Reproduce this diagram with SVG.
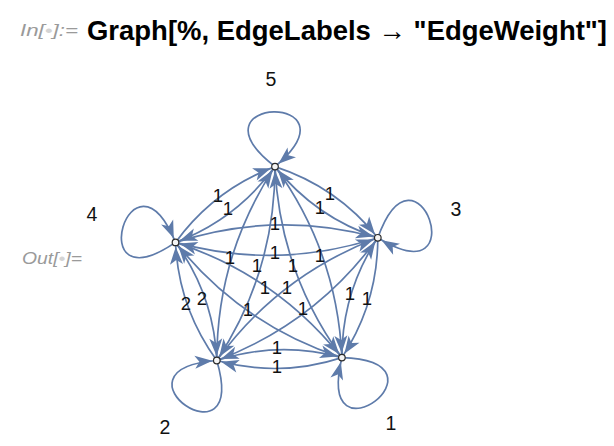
<svg xmlns="http://www.w3.org/2000/svg" width="614" height="446" viewBox="0 0 614 446">
<style>
.e{fill:none;stroke:#5E7BAA;stroke-width:1.7;marker-end:url(#ah)}
.lb{font-family:"Liberation Sans",Arial,sans-serif;font-size:18.5px;fill:#111;text-anchor:middle}
.nl{font-family:"Liberation Sans",Arial,sans-serif;font-size:19.5px;fill:#111;text-anchor:middle}
.pr{font-family:"Liberation Sans",Arial,sans-serif;font-style:italic;font-size:17px;fill:#9a9a9a}
.nd{fill:#f4f4f4;stroke:#2b2b2b;stroke-width:1.2}
</style>
<defs>
<marker id="ah" markerUnits="userSpaceOnUse" markerWidth="26" markerHeight="14" refX="25" refY="7" orient="auto">
<path d="M20.5,7 L3,0.5 L7.5,7 L3,13.5 Z" fill="#5E7BAA"/>
</marker>
</defs>
<rect width="614" height="446" fill="#ffffff"/>
<text class="pr" x="20" y="36" textLength="58" lengthAdjust="spacingAndGlyphs">In[<tspan fill="#d4d4d4">•</tspan>]:=</text>
<text x="87" y="40" font-family="Liberation Sans,Arial,sans-serif" font-weight="bold" font-size="27.5" fill="#000" textLength="520" lengthAdjust="spacingAndGlyphs">Graph[%, EdgeLabels → "EdgeWeight"]</text>
<text class="pr" x="22" y="264" textLength="60" lengthAdjust="spacingAndGlyphs">Out[<tspan fill="#d4d4d4">•</tspan>]=</text>
<g id="connectors">
<path class="e" d="M275,166.6 C183.3,95.7 363.3,91.5 275,166.6"/>
<path class="e" d="M377.8,237.8 C416.9,128.7 476.5,298.6 377.8,237.8"/>
<path class="e" d="M341.9,357.6 C457.7,361.1 314.6,470.2 341.9,357.6"/>
<path class="e" d="M216.8,360.5 C249.3,471.7 101.3,369.4 216.8,360.5"/>
<path class="e" d="M175.5,242.4 C79.7,307.6 131.5,135.2 175.5,242.4"/>
<path class="e" d="M275,166.6 Q337.1,186.8 377.8,237.8"/>
<path class="e" d="M377.8,237.8 Q315.7,217.6 275,166.6"/>
<path class="e" d="M275,166.6 Q236.6,219.4 175.5,242.4"/>
<path class="e" d="M175.5,242.4 Q213.9,189.6 275,166.6"/>
<path class="e" d="M377.8,237.8 Q377.8,303.1 341.9,357.6"/>
<path class="e" d="M341.9,357.6 Q341.9,292.3 377.8,237.8"/>
<path class="e" d="M216.8,360.5 Q278.9,340.3 341.9,357.6"/>
<path class="e" d="M341.9,357.6 Q279.8,377.8 216.8,360.5"/>
<path class="e" d="M175.5,242.4 Q213.9,295.3 216.8,360.5"/>
<path class="e" d="M216.8,360.5 Q178.4,307.6 175.5,242.4"/>
<path class="e" d="M175.5,242.4 Q276.0,209.8 377.8,237.8"/>
<path class="e" d="M377.8,237.8 Q277.3,270.4 175.5,242.4"/>
<path class="e" d="M275,166.6 Q275.0,272.3 216.8,360.5"/>
<path class="e" d="M216.8,360.5 Q216.8,254.8 275,166.6"/>
<path class="e" d="M275,166.6 Q337.1,252.1 341.9,357.6"/>
<path class="e" d="M341.9,357.6 Q279.8,272.1 275,166.6"/>
<path class="e" d="M175.5,242.4 Q276.0,275.0 341.9,357.6"/>
<path class="e" d="M341.9,357.6 Q241.4,325.0 175.5,242.4"/>
<path class="e" d="M377.8,237.8 Q315.7,323.3 216.8,360.5"/>
<path class="e" d="M216.8,360.5 Q278.9,275.0 377.8,237.8"/>
</g>
<g id="edge-labels">
<text class="lb" x="330" y="199.5">1</text>
<text class="lb" x="320" y="213.5">1</text>
<text class="lb" x="228" y="214.5">1</text>
<text class="lb" x="218" y="201.5">1</text>
<text class="lb" x="367" y="304.5">1</text>
<text class="lb" x="350" y="299.5">1</text>
<text class="lb" x="277" y="353.5">1</text>
<text class="lb" x="277" y="372.5">1</text>
<text class="lb" x="202" y="304.5">2</text>
<text class="lb" x="186" y="309.5">2</text>
<text class="lb" x="275" y="229.5">1</text>
<text class="lb" x="275" y="258.5">1</text>
<text class="lb" x="257" y="271.5">1</text>
<text class="lb" x="230" y="263.5">1</text>
<text class="lb" x="320" y="261.5">1</text>
<text class="lb" x="293" y="271.5">1</text>
<text class="lb" x="265" y="293.5">1</text>
<text class="lb" x="248" y="315.5">1</text>
<text class="lb" x="303" y="314.5">1</text>
<text class="lb" x="287" y="293.5">1</text>
</g>
<g id="node5"><circle class="nd" cx="275" cy="166.6" r="3.3"/><text class="nl" x="271" y="86">5</text></g>
<g id="node3"><circle class="nd" cx="377.8" cy="237.8" r="3.3"/><text class="nl" x="456" y="216">3</text></g>
<g id="node1"><circle class="nd" cx="341.9" cy="357.6" r="3.3"/><text class="nl" x="391" y="430">1</text></g>
<g id="node2"><circle class="nd" cx="216.8" cy="360.5" r="3.3"/><text class="nl" x="165" y="434">2</text></g>
<g id="node4"><circle class="nd" cx="175.5" cy="242.4" r="3.3"/><text class="nl" x="92" y="221">4</text></g>
</svg>
